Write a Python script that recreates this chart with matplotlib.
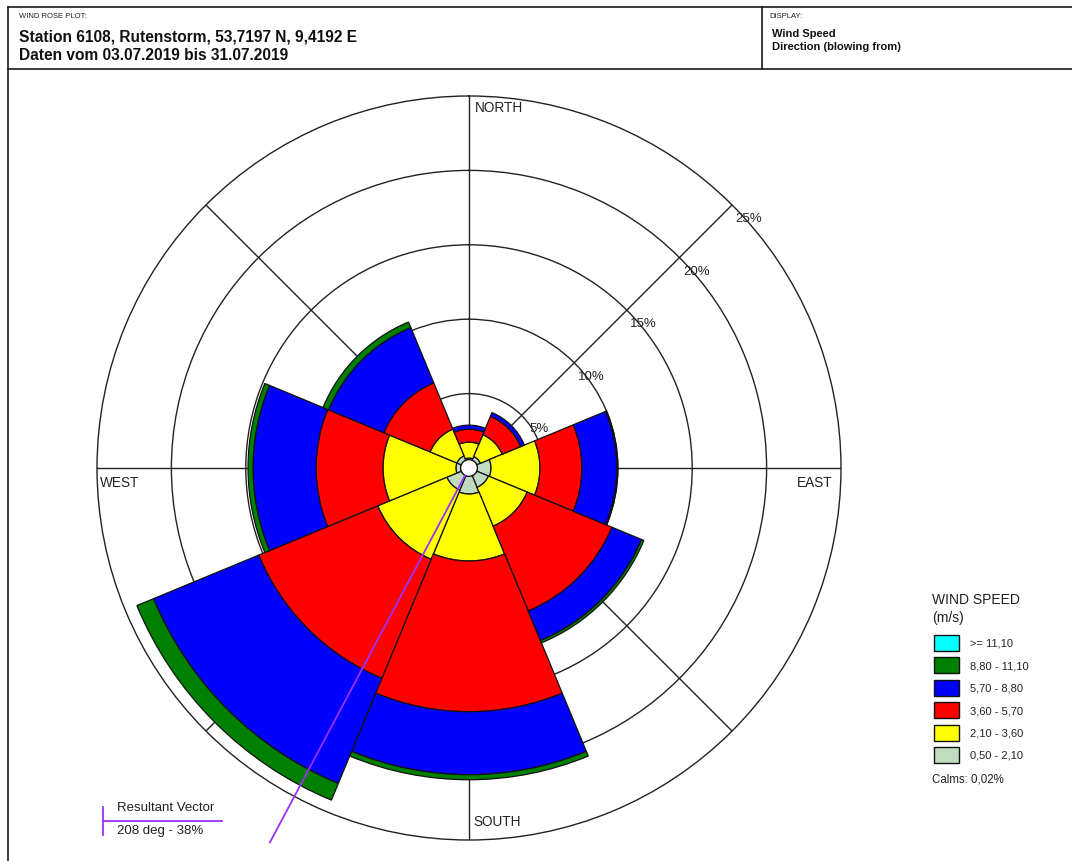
import numpy as np
import matplotlib
matplotlib.use("Agg")
import matplotlib.pyplot as plt
from matplotlib.patches import Rectangle, Circle

plt.rcParams['font.family'] = ['Liberation Sans', 'DejaVu Sans']

# ---------------- data ----------------
directions = ['N', 'NE', 'E', 'SE', 'S', 'SW', 'W', 'NW']
direction_deg = [0, 45, 90, 135, 180, 225, 270, 315]
speed_labels = ['0,50 - 2,10', '2,10 - 3,60', '3,60 - 5,70',
                '5,70 - 8,80', '8,80 - 11,10', '>= 11,10']
speed_colors = ['#c0dcc0', '#ffff00', '#ff0000', '#0000ff', '#008000', '#00ffff']

# frequency (%) per direction, per speed class
freq_050_210 = [0.11, 0.27, 0.92, 0.85, 1.19, 1.05, 0.32, 0.32]
freq_210_360 = [1.07, 1.59, 3.29, 2.82, 4.50, 5.03, 4.90, 1.95]
freq_360_570 = [0.87, 1.34, 2.82, 6.17, 10.13, 8.66, 4.50, 3.36]
freq_570_880 = [0.27, 0.27, 2.35, 2.15, 4.23, 7.65, 4.23, 4.03]
freq_880_1110 = [0.00, 0.00, 0.07, 0.17, 0.34, 1.21, 0.34, 0.40]
freq_ge_1110 = [0.0, 0.0, 0.0, 0.0, 0.0, 0.0, 0.0, 0.0]

ring_values = [5, 10, 15, 20, 25]
calm_radius = 0.56
resultant_deg = 208
resultant_text = '208 deg - 38%'
calms_text = 'Calms: 0,02%'

# ---------------- figure ----------------
W, H = 1072, 862
fig = plt.figure(figsize=(W / 100, H / 100), dpi=100)

ov = fig.add_axes([0, 0, 1, 1])
ov.set_xlim(0, W)
ov.set_ylim(H, 0)
ov.axis('off')

lc = '#1a1a1a'
# frame
ov.plot([8, 1072], [8, 8], color=lc, lw=1.2)
ov.plot([8, 1072], [70, 70], color=lc, lw=1.2)
ov.plot([8, 8], [8, 862], color=lc, lw=1.2)
ov.plot([762, 762], [8, 70], color=lc, lw=1.2)

ov.text(19, 16, 'WIND ROSE PLOT:', fontsize=5.5, va='center', ha='left', color='#222')
ov.text(19, 37, 'Station 6108, Rutenstorm, 53,7197 N, 9,4192 E', fontsize=11.2,
        fontweight='bold', va='center', ha='left', color='#111')
ov.text(19, 56, 'Daten vom 03.07.2019 bis 31.07.2019', fontsize=11.2,
        fontweight='bold', va='center', ha='left', color='#111')
ov.text(769, 16, 'DISPLAY:', fontsize=5.5, va='center', ha='left', color='#222')
ov.text(772, 34, 'Wind Speed', fontsize=8, fontweight='bold', va='center', ha='left', color='#111')
ov.text(772, 47, 'Direction (blowing from)', fontsize=8, fontweight='bold',
        va='center', ha='left', color='#111')

# compass labels
ov.text(475, 108, 'NORTH', fontsize=9.8, va='center', ha='left', color='#222')
ov.text(473, 822, 'SOUTH', fontsize=9.8, va='center', ha='left', color='#222')
ov.text(100, 483, 'WEST', fontsize=9.8, va='center', ha='left', color='#222')
ov.text(797, 483, 'EAST', fontsize=9.8, va='center', ha='left', color='#222')

# legend
ov.text(932, 600, 'WIND SPEED', fontsize=10, va='center', ha='left', color='#222')
ov.text(932, 618, '(m/s)', fontsize=10, va='center', ha='left', color='#222')
leg_order = list(range(len(speed_labels)))[::-1]
for i, k in enumerate(leg_order):
    yc = 644 + i * 22.4
    ov.add_patch(Rectangle((934, yc - 8), 25, 16, facecolor=speed_colors[k],
                           edgecolor='#111', lw=1.0))
    ov.text(970, yc, speed_labels[k], fontsize=8, va='center', ha='left', color='#222')
ov.text(932, 780, calms_text, fontsize=8.3, va='center', ha='left', color='#222')

# resultant vector legend
ov.plot([103, 222], [822, 822], color='#9b30ff', lw=1.3)
ov.plot([103, 103], [808, 836], color='#9b30ff', lw=1.3)
ov.text(117, 808, 'Resultant Vector', fontsize=9.5, va='center', ha='left', color='#222')
ov.text(117, 831, resultant_text, fontsize=9.5, va='center', ha='left', color='#222')

# ---------------- polar rose ----------------
cx, cy, R = 469, 469, 372
ax = fig.add_axes([(cx - R) / W, (H - cy - R) / H, 2 * R / W, 2 * R / H], projection='polar')
ax.set_theta_zero_location('N')
ax.set_theta_direction(-1)
ax.set_ylim(0, 25)
ax.set_yticks(ring_values[:-1])
ax.set_yticklabels([])
ax.set_xticks(np.deg2rad(direction_deg))
ax.set_xticklabels([])
ax.grid(True, color='#222', lw=1.0)
ax.spines['polar'].set_color('#222')
ax.spines['polar'].set_linewidth(1.0)
ax.set_axisbelow(True)
ax.patch.set_alpha(0)

theta = np.deg2rad(direction_deg)
width = np.deg2rad(45)
series = [freq_050_210, freq_210_360, freq_360_570, freq_570_880, freq_880_1110, freq_ge_1110]
bottom = np.full(len(directions), calm_radius)
for vals, col in zip(series, speed_colors):
    vals = np.array(vals)
    mask = vals > 0
    ax.bar(theta[mask], vals[mask], width=width, bottom=bottom[mask], color=col,
           edgecolor='#111', lw=0.9, align='center', zorder=3)
    bottom = bottom + vals

ax.add_patch(Circle((0, 0), calm_radius, transform=ax.transData._b, facecolor='white',
                    edgecolor='#111', lw=0.9, zorder=4))

# resultant vector line
tr = np.deg2rad(resultant_deg)
ax.plot([tr, tr], [calm_radius, 28.5], color='#9b30ff', lw=1.3, clip_on=False, zorder=5)

# ring labels
for v in ring_values:
    ax.annotate(f'{v}%', xy=(np.deg2rad(45), v), xytext=(17, -13),
                textcoords='offset pixels', ha='center', va='center',
                fontsize=9.5, color='#222', zorder=6)

fig.savefig('out.png', dpi=100)
